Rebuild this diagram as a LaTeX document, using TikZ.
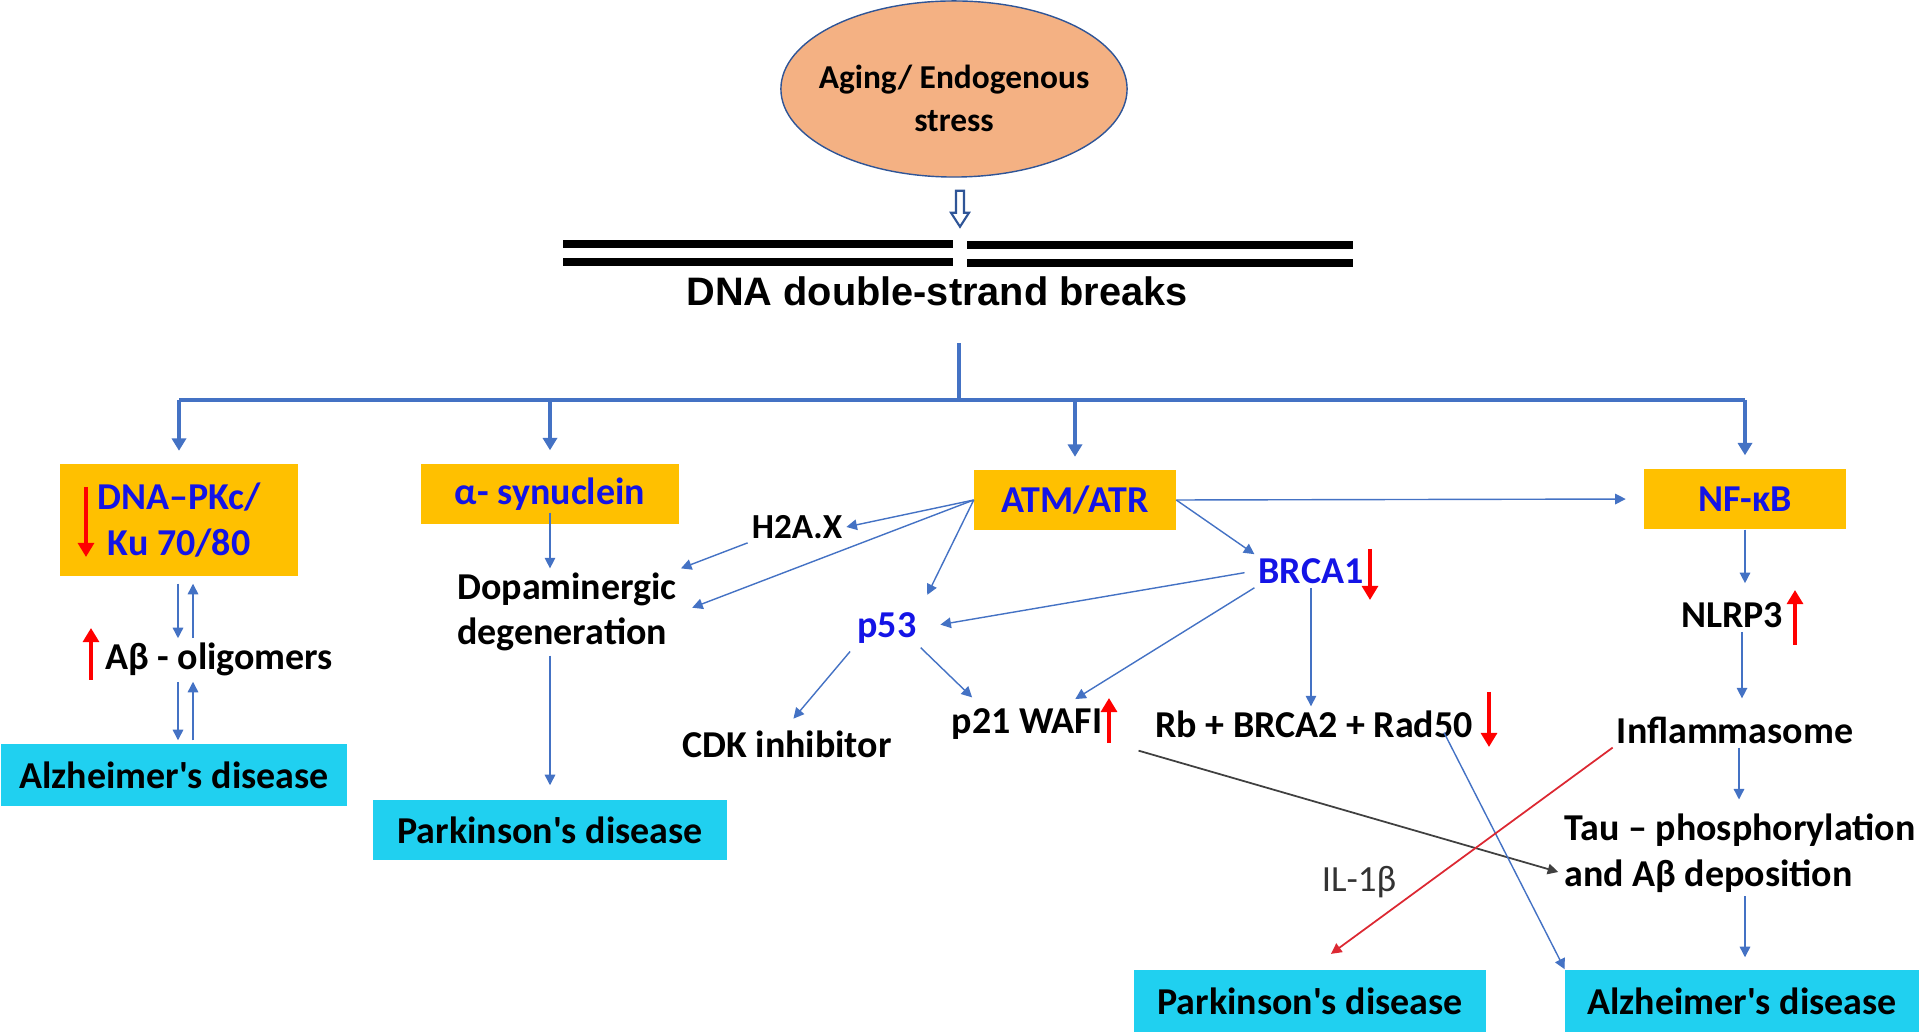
\documentclass[tikz,border=0pt]{standalone}
\usepackage{fontspec}
\setmainfont{Carlito}
\newfontfamily\arialfont{Liberation Sans}
\usetikzlibrary{arrows.meta,calc,positioning,shapes}

\definecolor{boxorange}{RGB}{255,192,0}
\definecolor{boxcyan}{RGB}{32,208,240}
\definecolor{labelblue}{RGB}{20,20,230}
\definecolor{linkblue}{RGB}{68,114,196}
\definecolor{peach}{RGB}{244,177,131}
\definecolor{ellblue}{RGB}{47,85,151}
\definecolor{ilred}{RGB}{220,40,50}

\begin{document}
\begin{tikzpicture}[x=0.01cm,y=-0.01cm,>={Triangle[length=3pt,width=3pt]},
  every node/.style={inner sep=1pt,font=\bfseries\fontsize{10.8}{13}\selectfont},
  orangebox/.style={fill=boxorange,text=labelblue,align=center},
  cyanbox/.style={fill=boxcyan,minimum height=0.61cm},
  bluetext/.style={text=labelblue},
  link/.style={->,draw=linkblue,line width=0.4pt},
  branch/.style={->,draw=linkblue,line width=1pt,>={Triangle[length=3.5pt,width=4pt]}},
  redmark/.style={-{Triangle[length=4pt,width=4.5pt]},red,line width=1.2pt}]

  \useasboundingbox (0,0) rectangle (1920,1034);

  % cause and breaks
  \node[ellipse,draw=ellblue,fill=peach,minimum width=3.46cm,minimum height=1.76cm] (stress) at (954,89) {};
  \node[align=center,font=\bfseries\fontsize{9.5}{12.2}\selectfont] (stresslbl) at ($(stress)+(0,9)$)
    {Aging/ Endogenous\\stress};
  \draw[ellblue,fill=white,line width=0.6pt] ($(stress.south)+(2,13)$) -- ++(8,0) -- ++(0,22)
    -- ++(5,0) -- ++(-9,14) -- ++(-9,-14) -- ++(5,0) -- cycle;
  \draw[line width=2pt] (563,244) -- (953,244) (563,262) -- (953,262)
    (967,245) -- (1353,245) (967,263) -- (1353,263);
  \node[font=\arialfont\bfseries\fontsize{11.3}{13}\selectfont] (dsb) at (937,291) {DNA double-strand breaks};

  % first row
  \node[orangebox,minimum width=2.37cm,minimum height=1.11cm] (pk) at (179,520) {DNA--PKc/\\Ku 70/80};
  \node[orangebox,minimum width=2.57cm,minimum height=0.60cm] (syn) at (550,494) {α- synuclein};
  \node[orangebox,minimum width=2.01cm,minimum height=0.59cm] (atm) at (1075,500) {ATM/ATR};
  \node[orangebox,minimum width=2.01cm,minimum height=0.60cm] (nf) at (1745,499) {NF-κB};

  \coordinate (hub) at (959,400);
  \draw[linkblue,line width=1pt] (hub) -- ++(0,-57);
  \draw[linkblue,line width=1pt] (pk.north |- hub) -- (nf.north |- hub);
  \foreach \n in {pk,syn,atm,nf}
    \draw[branch,shorten >=0.13cm] (\n.north |- hub) -- (\n.north);

  % left column
  \node (ab) at (219,659) {Aβ - oligomers};
  \node[cyanbox,minimum width=3.45cm] (alz1) at (174,775) {Alzheimer\textquotesingle s disease};
  \draw[link,shorten <=0.075cm] ([xshift=-0.01cm]pk.south) -- ([xshift=-0.01cm]pk.south |- ab.north);
  \draw[link,shorten >=0.075cm] ([xshift=0.14cm]pk.south |- ab.north) -- ([xshift=0.14cm]pk.south);
  \draw[link,shorten <=0.02cm,shorten >=0.035cm] ([xshift=-0.01cm]ab.south -| pk.south) -- ([xshift=-0.01cm]pk.south |- alz1.north);
  \draw[link,shorten <=0.035cm,shorten >=0.02cm] ([xshift=0.14cm]pk.south |- alz1.north) -- ([xshift=0.14cm]pk.south |- ab.south);
  \draw[redmark] ($(pk)+(-93,-33)$) -- ++(0,70);
  \draw[redmark] ($(ab)+(-128,21)$) -- ++(0,-52);

  % synuclein column
  \node[align=left] (dopa) at (567,612) {Dopaminergic\\degeneration};
  \node[cyanbox,minimum width=3.53cm,minimum height=0.60cm] (park1) at (550,830) {Parkinson\textquotesingle s disease};
  \draw[link] ([yshift=0.12cm]syn.south) -- (syn.south |- dopa.north);
  \draw[link,shorten >=0.14cm] (syn.south |- dopa.south) -- (park1.north);

  % ATM/ATR targets
  \node[font=\bfseries\fontsize{10}{12}\selectfont] (h2ax) at (797,527) {H2A.X};
  \node[bluetext] (p53) at (887,628) {p53};
  \node[bluetext] (brca) at (1311,571) {BRCA1};
  \node (cdk) at (787,744) {CDK inhibitor};
  \node (p21) at (1027,724) {p21 WAFI};
  \node (rb) at (1314,724) {Rb + BRCA2 + Rad50};
  \draw[link] (atm.west) -- (h2ax.east);
  \draw[link] (h2ax.south west) -- (dopa.north east);
  \draw[link,shorten >=0.12cm] (atm.west) -- (dopa.east);
  \draw[link,shorten >=0.15cm] (atm.west) -- (p53.north east);
  \draw[link] (atm.east) -- (brca.north west);
  \draw[link,shorten >=0.18cm] (atm.east) -- (nf.west);
  \draw[link,shorten >=0.2cm,shorten <=0.1cm] (brca.west) -- (p53.east);
  \draw[link,shorten >=0.1cm] (brca.south west) -- ($(p21.north)!0.5!(p21.north east)$);
  \draw[link] (brca.south) -- (brca.south |- rb.north);
  \draw[link,shorten <=0.05cm,shorten >=0.1cm] (p53.south west) -- (cdk.north);
  \draw[link,shorten >=0.1cm] (p53.south east) -- ($(p21.north west)!0.4!(p21.north)$);
  \draw[redmark] ($(brca)+(59,-22)$) -- ++(0,51);
  \draw[redmark] ($(p21)+(82,19)$) -- ++(0,-45);
  \draw[redmark] ($(rb)+(175,-32)$) -- ++(0,55);

  % NF-kB column
  \node (nlrp) at (1732,615) {NLRP3};
  \node (infl) at (1735,730) {Inflammasome};
  \node[align=left] (tau) at (1740,853) {Tau -- phosphorylation\\and Aβ deposition};
  \node[cyanbox,minimum width=3.51cm,minimum height=0.62cm] (park2) at (1310,1001) {Parkinson\textquotesingle s disease};
  \node[cyanbox,minimum width=3.53cm,minimum height=0.62cm] (alz2) at (1742,1001) {Alzheimer\textquotesingle s disease};
  \draw[link,shorten >=0.15cm] (nf.south) -- (nf.south |- nlrp.north);
  \draw[link,shorten >=0.14cm] ([xshift=-0.03cm]nf.south |- nlrp.south) -- ([xshift=-0.03cm]nf.south |- infl.north);
  \draw[link,shorten >=0.1cm] ([xshift=-0.06cm]nf.south |- infl.south) -- ([xshift=-0.06cm]nf.south |- tau.north);
  \draw[link,shorten >=0.12cm] (nf.south |- tau.south) -- (nf.south |- alz2.north);
  \draw[redmark] ($(nlrp)+(63,30)$) -- ++(0,-55);

  % crossing links
  \draw[->,draw=black!75,line width=0.5pt] ($(p21.south east)+(32,7)$) -- ($(tau.west)+(-2,19)$);
  \draw[link] ($(rb.south east)+(-33,-9)$) -- (alz2.north west);
  \draw[->,draw=ilred,line width=0.5pt,shorten >=0.26cm] (infl.south west) -- (park2.north);
  \node[font=\fontsize{10.5}{12}\selectfont,text=black!80] (il) at (1359,882) {IL-1β};

\end{tikzpicture}
\end{document}
